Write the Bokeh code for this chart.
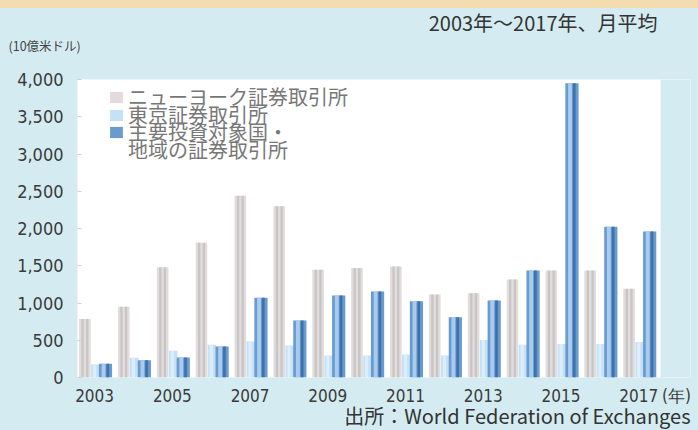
from bokeh.plotting import figure
from bokeh.models import (Range1d, FixedTicker, NumeralTickFormatter, Title,
                          Legend, LegendItem, ColumnDataSource, BoxAnnotation)
from bokeh.transform import dodge
from bokeh.embed import file_html
from bokeh.resources import INLINE

# ---- data ----
years = [2003, 2004, 2005, 2006, 2007, 2008, 2009, 2010, 2011, 2012,
         2013, 2014, 2015, 2016, 2017]
nyse = [785, 950, 1480, 1810, 2440, 2300, 1445, 1470, 1490, 1115,
        1130, 1315, 1435, 1435, 1190]
tokyo = [175, 265, 360, 440, 485, 430, 295, 295, 310, 295,
         505, 440, 450, 450, 475]
major = [185, 230, 270, 415, 1070, 765, 1100, 1155, 1025, 810,
         1035, 1435, 3950, 2025, 1960]
x_tick_years = [2003, 2005, 2007, 2009, 2011, 2013, 2015, 2017]
unit_tick = 2017.97          # position of the "(年)" unit label
y_ticks = [0, 500, 1000, 1500, 2000, 2500, 3000, 3500, 4000]
series_labels = ["ニューヨーク証券取引所", "東京証券取引所", "主要投資対象国・", "地域の証券取引所"]

BG = "#d4ecf1"
BAND = "#f3dcae"
NUM_FONT = "Liberation Sans Narrow, DejaVu Sans Condensed, Roboto"
JP_FONT = "Noto Sans CJK JP"

src = ColumnDataSource(dict(year=years, nyse=nyse, tokyo=tokyo, major=major))

p = figure(frame_width=613, frame_height=298,
           min_border_left=77, min_border_right=8,
           min_border_top=79, min_border_bottom=53,
           x_range=Range1d(2002.56, 2018.33), y_range=Range1d(0, 4000),
           title=None,
           output_backend="svg", toolbar_location=None)
p.background_fill_color = "white"
p.border_fill_alpha = 0
p.outline_line_color = None
p.xgrid.grid_line_color = None
p.ygrid.grid_line_color = None

# light-blue area right of the white plotting area
p.add_layout(BoxAnnotation(left=2017.56, fill_color=BG, fill_alpha=1,
                           line_color=None, level="underlay"))

# NYSE bars (grey cylinder look)
r_nyse = p.vbar(x=dodge("year", -0.25, range=p.x_range), top="nyse", width=0.30,
                source=src, fill_color="#e4dcdc", line_color=None)
p.vbar(x=dodge("year", -0.31, range=p.x_range), top="nyse", width=0.06,
       source=src, fill_color="#c6c6c6", line_color=None)
p.vbar(x=dodge("year", -0.19, range=p.x_range), top="nyse", width=0.06,
       source=src, fill_color="#c6c6c6", line_color=None)

# Tokyo bars
r_tokyo = p.vbar(x=dodge("year", 0.02, range=p.x_range), top="tokyo", width=0.22,
                 source=src, fill_color="#c4e1f6", line_color=None)
p.vbar(x=dodge("year", 0.0, range=p.x_range), top="tokyo", width=0.08,
       source=src, fill_color="#ddeefa", line_color=None)

# Major markets bars
r_major = p.vbar(x=dodge("year", 0.28, range=p.x_range), top="major", width=0.34,
                 source=src, fill_color="#6a9bd0", line_color=None)
p.vbar(x=dodge("year", 0.23, range=p.x_range), top="major", width=0.10,
       source=src, fill_color="#a9cbee", line_color=None)
p.vbar(x=dodge("year", 0.34, range=p.x_range), top="major", width=0.07,
       source=src, fill_color="#3f72a8", line_color=None)

dummy = p.vbar(x=[], top=[], width=0.1, fill_alpha=0, line_alpha=0)

# axes
p.xaxis.ticker = FixedTicker(ticks=x_tick_years + [unit_tick])
p.xaxis.major_label_overrides = {unit_tick: "(年)"}
p.xaxis.axis_line_color = None
p.xaxis.major_tick_line_color = None
p.xaxis.minor_tick_line_color = None
p.xaxis.major_label_standoff = 2
p.xaxis.major_label_text_font = NUM_FONT
p.xaxis.major_label_text_font_size = "17px"
p.xaxis.major_label_text_color = "#3a3a3a"

p.yaxis.ticker = FixedTicker(ticks=y_ticks)
p.yaxis.formatter = NumeralTickFormatter(format="0,0")
p.yaxis.axis_line_color = None
p.yaxis.major_tick_line_color = "#d0d0d0"
p.yaxis.major_tick_in = 4
p.yaxis.major_tick_out = 0
p.yaxis.minor_tick_line_color = None
p.yaxis.major_label_standoff = 14
p.yaxis.major_label_text_font = NUM_FONT
p.yaxis.major_label_text_font_size = "18px"
p.yaxis.major_label_text_color = "#3a3a3a"

# legend: one single-item legend per row, stacked tightly like the reference
legend_rows = [(series_labels[0], r_nyse), (series_labels[1], r_tokyo),
               (series_labels[2], r_major), (series_labels[3], dummy)]
row_bottoms = [266, 248, 231, 213]   # px above the frame bottom
for (lab, rend), yb in zip(legend_rows, row_bottoms):
    lg = Legend(items=[LegendItem(label=lab, renderers=[rend])], location=(31, yb))
    lg.label_text_font = JP_FONT
    lg.label_text_font_size = "20px"
    lg.label_text_color = "#777777"
    lg.glyph_width = 16
    lg.glyph_height = 14
    lg.label_standoff = 4
    lg.padding = 0
    lg.margin = 0
    lg.spacing = 0
    lg.border_line_color = None
    lg.background_fill_alpha = 0
    p.add_layout(lg)

# texts around the plot (first "above" entry is a blank spacer next to the frame)
p.add_layout(Title(text="\u00a0", align="left", standoff=21, text_font_size="1px",
                   text_color=BG), "above")
p.add_layout(Title(text="(10億米ドル)", align="left", offset=-69, standoff=0,
                   vertical_align="middle",
                   text_font=JP_FONT, text_font_size="12.5px", text_font_style="normal",
                   text_color="#444444"), "above")
p.add_layout(Title(text="2003年～2017年、月平均", align="right", offset=33, standoff=-6,
                   vertical_align="middle",
                   text_font=JP_FONT, text_font_size="20px", text_font_style="normal",
                   text_color="#333333"), "above")
p.add_layout(Title(text="出所：World Federation of Exchanges", align="right", offset=0,
                   standoff=-15, vertical_align="top", text_font=JP_FONT,
                   text_font_size="20px", text_font_style="normal",
                   text_color="#333333"), "below")

html = file_html(p, INLINE)
style = ("<style>html, body {background: linear-gradient(to bottom, %s 0px, %s 8px, %s 8px, %s 100%%) no-repeat; "
         "background-color: %s;}</style></head>" % (BAND, BAND, BG, BG, BG))
html = html.replace("</head>", style, 1)
open("out.html", "w").write(html)
